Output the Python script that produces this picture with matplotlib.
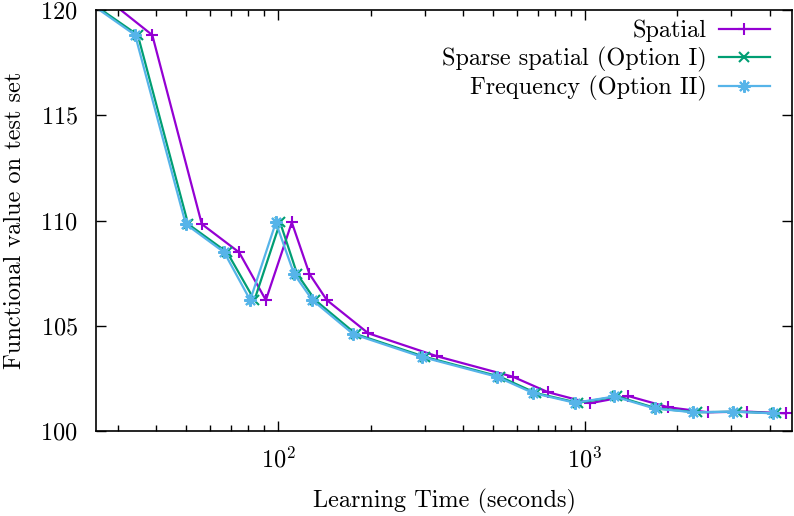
import matplotlib
matplotlib.use("Agg")
import matplotlib.pyplot as plt
import numpy as np

plt.rcParams['font.family'] = ['cmr10', 'DejaVu Serif']
plt.rcParams['mathtext.fontset'] = 'cm'
plt.rcParams['axes.formatter.use_mathtext'] = True
plt.rcParams['axes.unicode_minus'] = False

# Lesing av data fra bildet (tid i sekunder, funksjonsverdi)
t_spatial = [22.8, 38.9, 56.4, 74.6, 91.2, 110.8, 126.5, 144.1, 196.8, 329.6,
             581.6, 759, 1038, 1384, 1866, 2510, 3379, 4515]
f_spatial = [121.5, 118.81, 109.83, 108.49, 106.22, 109.91, 107.46, 106.22, 104.64, 103.55,
             102.58, 101.84, 101.32, 101.66, 101.13, 100.89, 100.92, 100.84]

t_sparse = [18.9, 34.9, 50.9, 68.2, 83.7, 101.5, 115.3, 132.0, 179.5, 301,
            528, 692, 948, 1271, 1716, 2317, 3126, 4188]
f_sparse = [121.5, 118.81, 109.83, 108.49, 106.22, 109.91, 107.46, 106.22, 104.60, 103.52,
            102.58, 101.80, 101.34, 101.64, 101.07, 100.89, 100.92, 100.84]

t_freq = [18.7, 34.2, 50.0, 66.7, 81.1, 98.3, 112.7, 129.3, 175.8, 293.8,
          515.4, 678.6, 927.7, 1246, 1684, 2253, 3041, 4084]
f_freq = [121.5, 118.81, 109.83, 108.49, 106.22, 109.91, 107.46, 106.22, 104.60, 103.52,
          102.58, 101.80, 101.34, 101.64, 101.07, 100.89, 100.92, 100.84]

labels = ["Spatial", "Sparse spatial (Option I)", "Frequency (Option II)"]
farger = ["#9400D3", "#009E73", "#56B4E9"]

fig = plt.figure(figsize=(7.94, 5.16), dpi=100)
ax = fig.add_axes([0.1209, 0.1647, 0.8766, 0.8159])

ax.plot(t_spatial, f_spatial, color=farger[0], lw=1.6, marker="+", ms=9, mew=1.5, label=labels[0])
ax.plot(t_sparse, f_sparse, color=farger[1], lw=1.6, marker="x", ms=7, mew=1.5, label=labels[1])
ax.plot(t_freq, f_freq, color=farger[2], lw=1.6, marker=(8, 2, 0), ms=9, mew=1.5, label=labels[2])

ax.set_xscale("log")
ax.set_xlim(25.5, 4724)
ax.set_ylim(100, 120)
ax.set_yticks([100, 105, 110, 115, 120])

ax.tick_params(which="both", direction="in", top=True, right=True, labelsize=17.5)
ax.tick_params(axis="y", pad=13)
ax.tick_params(axis="x", pad=11)
ax.tick_params(which="major", length=7, width=1)
ax.tick_params(which="minor", length=4, width=1)
for s in ax.spines.values():
    s.set_linewidth(1.2)

ax.set_xlabel("Learning Time (seconds)", fontsize=17.5, labelpad=12)
ax.set_ylabel("Functional value on test set", fontsize=17.5, labelpad=10)

ax.legend(loc="upper right", bbox_to_anchor=(0.982, 1.0), frameon=False, markerfirst=False,
          fontsize=17.5, handlelength=2.1, labelspacing=0.18, borderaxespad=0.0, handletextpad=0.5)

fig.savefig("out.png", dpi=100)
